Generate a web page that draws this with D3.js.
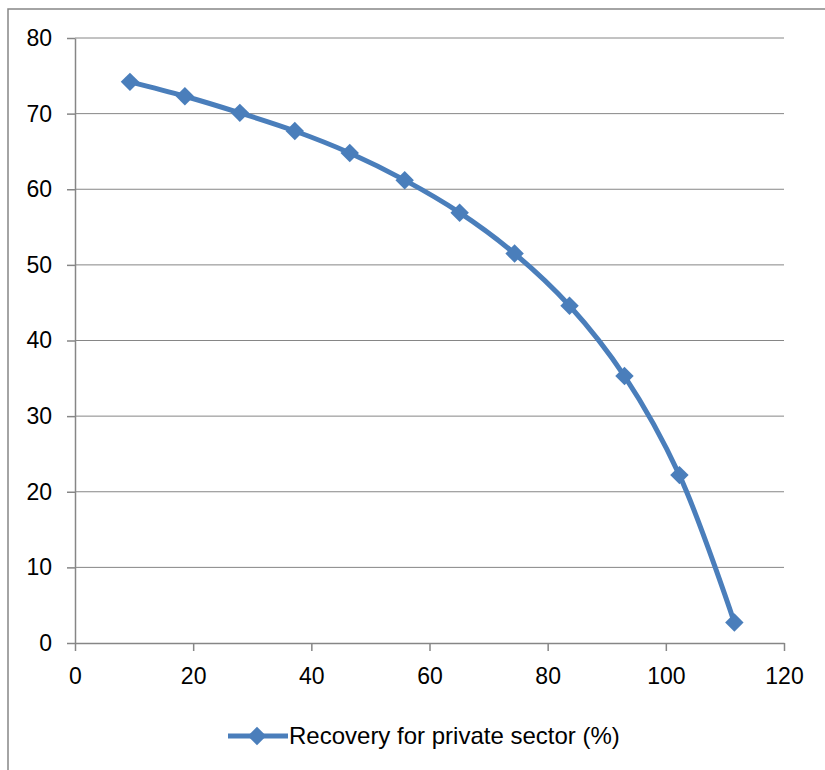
<!DOCTYPE html>
<html>
<head>
<meta charset="utf-8">
<script src="https://cdn.jsdelivr.net/npm/d3@7"></script>
<style>
  body { margin: 0; background: #fff; }
  svg { display: block; font-family: "Liberation Sans", Arial, sans-serif; }
</style>
</head>
<body>
<svg id="canvas"></svg>
<script>
// Data
let xValues = [9.3, 18.6, 27.9, 37.2, 46.5, 55.8, 65.1, 74.4, 83.7, 93.0, 102.3, 111.6];
let yValues = [74.2, 72.3, 70.1, 67.7, 64.8, 61.2, 56.9, 51.5, 44.6, 35.3, 22.2, 2.7];
let xTicks = [0, 20, 40, 60, 80, 100, 120];
let yTicks = [0, 10, 20, 30, 40, 50, 60, 70, 80];
let seriesName = "Recovery for private sector (%)";

let width = 825;
let height = 770;
let plotLeft = 75, plotRight = 784, plotTop = 38, plotBottom = 643;
let blue = "#4a7ebb";
let grey = "#868686";

let canvas = d3.select("#canvas").attr("width", width).attr("height", height);

// chart area border
canvas.append("rect")
  .attr("x", 8).attr("y", 9)
  .attr("width", width).attr("height", height)
  .attr("fill", "none").attr("stroke", grey).attr("stroke-width", 1.5);

let xScale = d3.scaleLinear().domain([0, 120]).range([plotLeft, plotRight]);
let yScale = d3.scaleLinear().domain([0, 80]).range([plotBottom, plotTop]);

// gridlines
canvas.append("g")
  .selectAll("line")
  .data(yTicks.filter((d) => d > 0))
  .enter()
  .append("line")
  .attr("x1", plotLeft).attr("x2", plotRight)
  .attr("y1", (d) => yScale(d)).attr("y2", (d) => yScale(d))
  .attr("stroke", grey).attr("stroke-width", 1);

let xAxis = d3.axisBottom(xScale).tickValues(xTicks).tickSize(8).tickSizeOuter(0).tickPadding(17);
let yAxis = d3.axisLeft(yScale).tickValues(yTicks).tickSize(8).tickSizeOuter(0).tickPadding(15);

let gx = canvas.append("g")
  .attr("id", "x-axis")
  .attr("transform", "translate(0, " + plotBottom + ")")
  .call(xAxis);

let gy = canvas.append("g")
  .attr("id", "y-axis")
  .attr("transform", "translate(" + plotLeft + ", 0)")
  .call(yAxis);

[gx, gy].forEach((g) => {
  g.selectAll("path").attr("stroke", grey).attr("stroke-width", 1.5);
  g.selectAll("line").attr("stroke", grey).attr("stroke-width", 1.5);
  g.selectAll("text")
    .attr("fill", "#000")
    .style("font-size", "23px")
    .style("font-family", "'Liberation Sans', Arial, sans-serif");
});

// series
let points = xValues.map((x, i) => [x, yValues[i]]);

let line = d3.line()
  .x((d) => xScale(d[0]))
  .y((d) => yScale(d[1]))
  .curve(d3.curveCatmullRom.alpha(0.5));

canvas.append("path")
  .datum(points)
  .attr("d", line)
  .attr("fill", "none")
  .attr("stroke", blue)
  .attr("stroke-width", 5)
  .attr("stroke-linejoin", "round");

let diamond = d3.symbol().type(d3.symbolSquare).size(170);

canvas.append("g")
  .selectAll("path")
  .data(points)
  .enter()
  .append("path")
  .attr("d", diamond)
  .attr("transform", (d) => "translate(" + xScale(d[0]) + "," + yScale(d[1]) + ") rotate(45)")
  .attr("fill", blue);

// legend
let legend = canvas.append("g").attr("transform", "translate(0, 736)");
legend.append("line")
  .attr("x1", 228).attr("x2", 288)
  .attr("stroke", blue).attr("stroke-width", 5);
legend.append("path")
  .attr("d", diamond)
  .attr("transform", "translate(257,0) rotate(45)")
  .attr("fill", blue);
legend.append("text")
  .attr("x", 289).attr("y", 8)
  .style("font-size", "24px")
  .attr("fill", "#000")
  .text(seriesName);
</script>
</body>
</html>
